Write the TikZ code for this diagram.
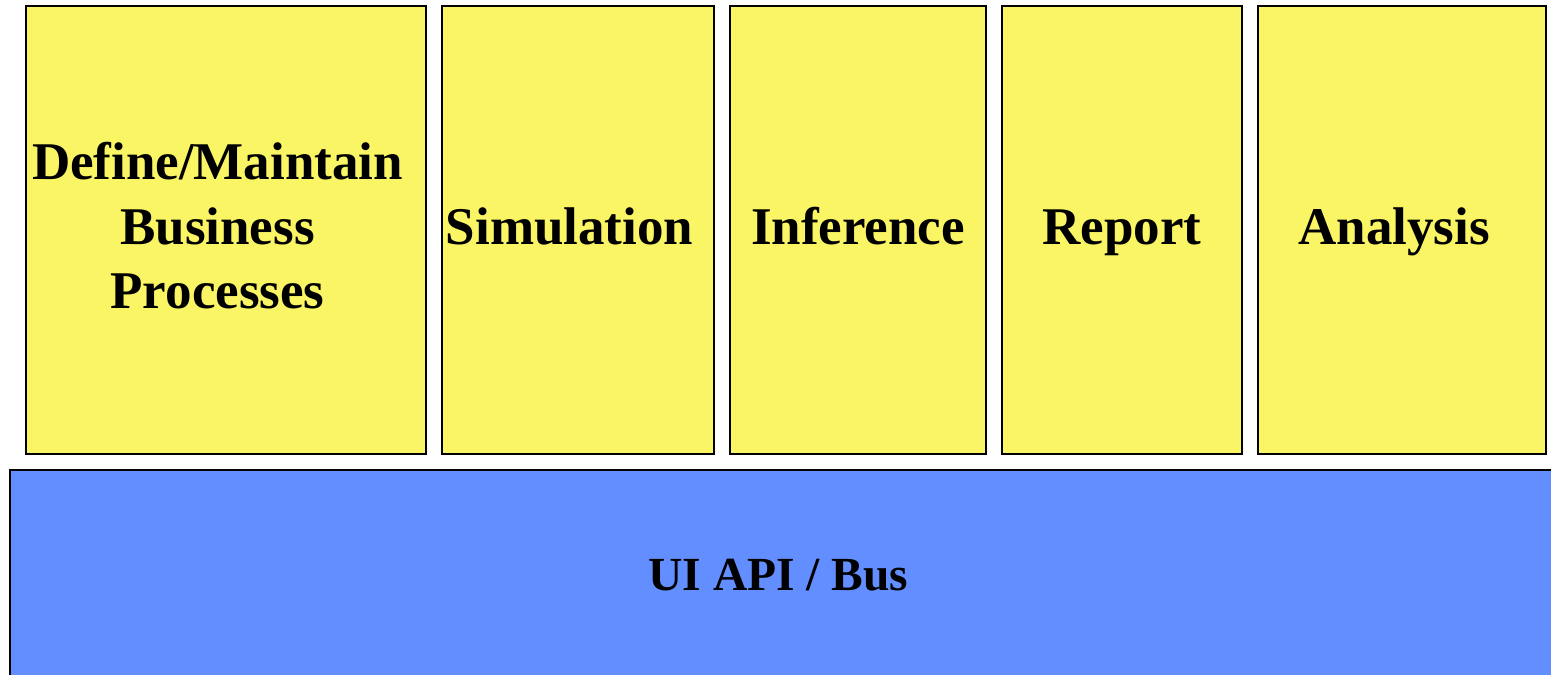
\documentclass[tikz,border=0pt]{standalone}
\usepackage{fontspec}
\setmainfont{Liberation Serif}
\definecolor{boxyellow}{RGB}{250,245,100}
\definecolor{busblue}{RGB}{98,142,255}
\begin{document}
\begin{tikzpicture}[x=1pt,y=-1pt,
  panel/.style={draw=black, line width=2pt, fill=boxyellow, inner sep=0pt, minimum height=448pt},
  busbox/.style={draw=black, line width=2pt, fill=busblue, inner sep=0pt},
  lbl/.style={font=\fontsize{53}{64.5}\selectfont\bfseries, align=center, inner sep=0pt},
  buslbl/.style={font=\fontsize{47.5}{58}\selectfont\bfseries, inner sep=0pt, anchor=base}]
\clip (0,0) rectangle (1551,675);
\fill[white] (0,0) rectangle (1551,675);
\node[panel, minimum width=400pt] (b1) at (226,230) {};
\node[panel, minimum width=272pt] (b2) at (578,230) {};
\node[panel, minimum width=256pt] (b3) at (858,230) {};
\node[panel, minimum width=240pt] (b4) at (1122,230) {};
\node[panel, minimum width=288pt] (b5) at (1402,230) {};
\node[busbox, minimum width=1560pt, minimum height=240pt] (bus) at (790,590) {};
\node[lbl] (t1) at ([xshift=-8.5pt,yshift=-1.5pt]b1.center) {\strut Define/Maintain\\\strut Business\\\strut Processes};
\node[lbl] (t2) at ([xshift=-8.5pt,yshift=-1.5pt]b2.center) {\strut Simulation};
\node[lbl] (t3) at ([yshift=-1.5pt]b3.center) {\strut Inference};
\node[lbl] (t4) at ([yshift=-1.5pt]b4.center) {\strut Report};
\node[lbl] (t5) at ([xshift=-8pt,yshift=-1.5pt]b5.center) {\strut Analysis};
\node[buslbl] (t6) at (778.5,590.5) {UI API / Bus};
\end{tikzpicture}
\end{document}
